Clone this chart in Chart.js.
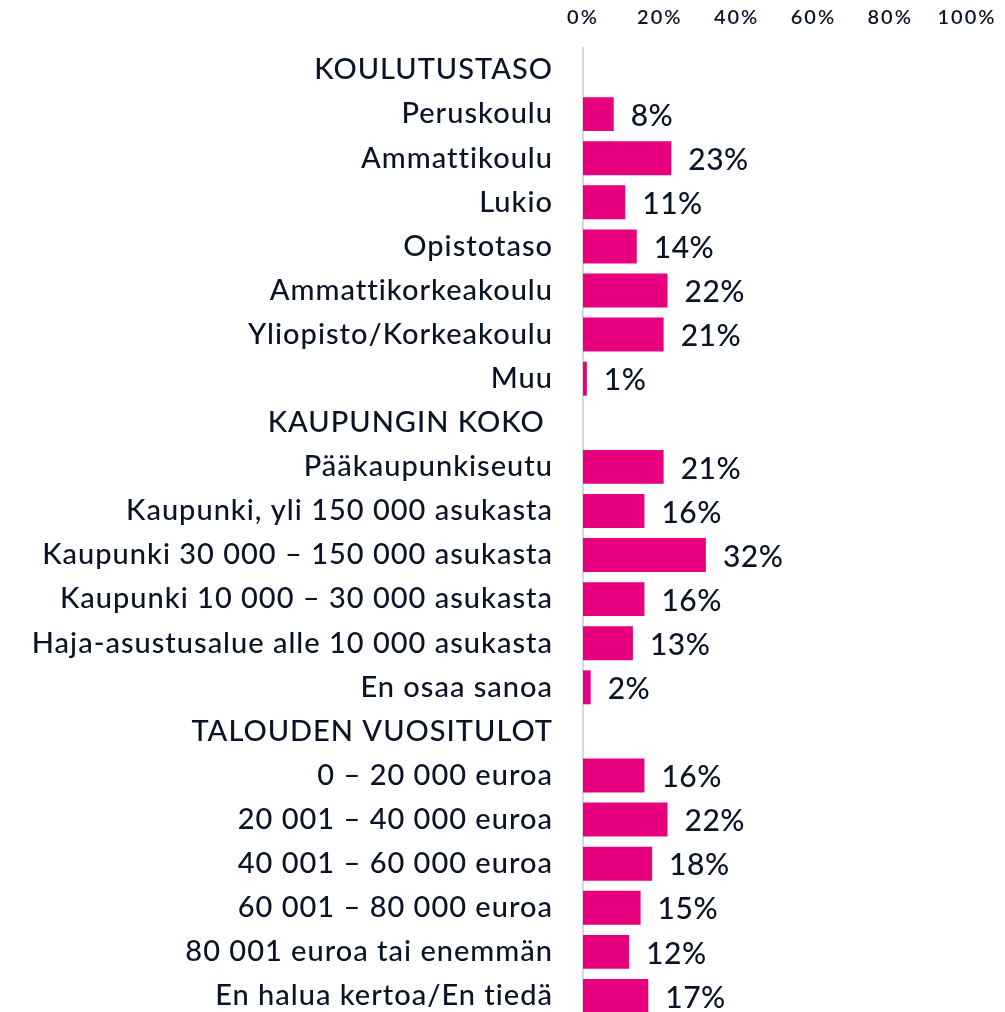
<!DOCTYPE html>
<html>
<head>
<meta charset="utf-8">
<script src="https://cdn.jsdelivr.net/npm/chart.js@4"></script>
<style>
html,body{margin:0;padding:0;background:#fff;overflow:hidden;}
#wrap{position:relative;width:1005px;height:1020px;}
</style>
</head>
<body>
<div id="wrap"><canvas id="c"></canvas></div>
<script>
const categories = [
  "KOULUTUSTASO",
  "Peruskoulu",
  "Ammattikoulu",
  "Lukio",
  "Opistotaso",
  "Ammattikorkeakoulu",
  "Yliopisto/Korkeakoulu",
  "Muu",
  "KAUPUNGIN KOKO ",
  "Pääkaupunkiseutu",
  "Kaupunki, yli 150 000 asukasta",
  "Kaupunki 30 000 – 150 000 asukasta",
  "Kaupunki 10 000 – 30 000 asukasta",
  "Haja-asustusalue alle 10 000 asukasta",
  "En osaa sanoa",
  "TALOUDEN VUOSITULOT",
  "0 – 20 000 euroa",
  "20 001 – 40 000 euroa",
  "40 001 – 60 000 euroa",
  "60 001 – 80 000 euroa",
  "80 001 euroa tai enemmän",
  "En halua kertoa/En tiedä"
];
const values = [null, 8, 23, 11, 14, 22, 21, 1, null, 21, 16, 32, 16, 13, 2, null, 16, 22, 18, 15, 12, 17];
const tickValues = [0, 20, 40, 60, 80, 100];

const TEXT = '#0b1426';
const BAR = '#e6007e';
const FONT = 'Lato';

const valueLabels = {
  id: 'valueLabels',
  afterDatasetsDraw(chart) {
    const ctx = chart.ctx;
    const meta = chart.getDatasetMeta(0);
    ctx.save();
    ctx.letterSpacing = '0.5px';
    ctx.font = '500 30px ' + FONT;
    ctx.fillStyle = TEXT;
    ctx.textAlign = 'left';
    ctx.textBaseline = 'middle';
    meta.data.forEach((bar, i) => {
      const v = values[i];
      if (v === null || v === undefined) return;
      ctx.fillText(v + '%', bar.x + 17, bar.y + 2);
    });
    ctx.restore();
  }
};

function wrapLabels(scale, sp) {
  if (scale._spWrapped) return;
  const orig = scale.drawLabels;
  scale.drawLabels = function (area) {
    const ctx = this.ctx;
    const prev = ctx.letterSpacing;
    ctx.letterSpacing = sp;
    orig.call(this, area);
    ctx.letterSpacing = prev;
  };
  scale._spWrapped = true;
}

new Chart(document.getElementById('c'), {
  type: 'bar',
  data: {
    labels: categories,
    datasets: [{
      data: values,
      backgroundColor: BAR,
      borderWidth: 0,
      barPercentage: 0.77,
      categoryPercentage: 1.0
    }]
  },
  options: {
    indexAxis: 'y',
    responsive: true,
    maintainAspectRatio: false,
    animation: false,
    events: [],
    layout: { padding: { left: 0, right: 38, top: 0, bottom: 2 } },
    plugins: { legend: { display: false }, tooltip: { enabled: false } },
    scales: {
      x: {
        position: 'top',
        min: 0,
        max: 100,
        afterBuildTicks(scale) { scale.ticks = tickValues.map(v => ({ value: v })); },
        afterFit(scale) {
          scale.height = 48;
          scale.paddingLeft = 0; scale.paddingRight = 0;
          wrapLabels(scale, '2px');
        },
        grid: { display: false, drawTicks: false },
        border: { display: false },
        ticks: {
          padding: 18,
          color: TEXT,
          font: { family: FONT, size: 20, weight: '600' },
          callback: v => v + '%'
        }
      },
      y: {
        afterFit(scale) {
          scale.width = 583;
          scale.paddingTop = 0; scale.paddingBottom = 0;
          wrapLabels(scale, '1px');
        },
        grid: { display: false, drawTicks: false },
        border: { display: true, color: '#d9d9d9', width: 2 },
        ticks: {
          padding: 30,
          color: TEXT,
          autoSkip: false,
          font: { family: FONT, size: 29, weight: '500' }
        }
      }
    }
  },
  plugins: [valueLabels]
});
</script>
</body>
</html>
